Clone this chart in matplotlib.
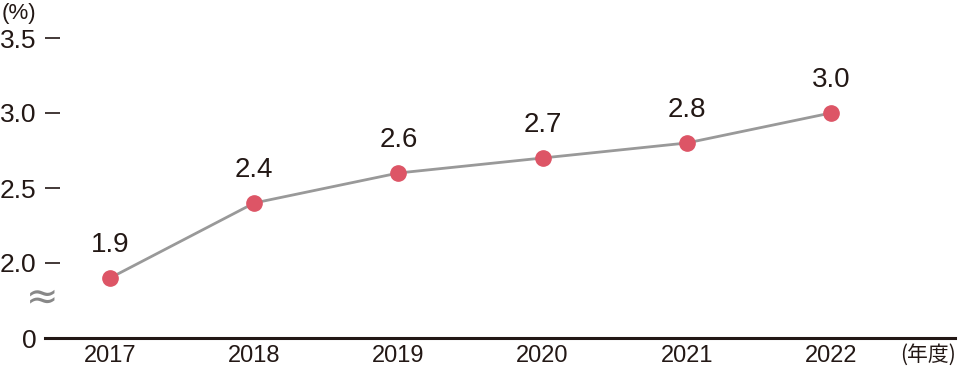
import matplotlib
matplotlib.use("Agg")
import matplotlib.pyplot as plt
import matplotlib.transforms as mtransforms

years = ["2017", "2018", "2019", "2020", "2021", "2022"]
values = [1.9, 2.4, 2.6, 2.7, 2.8, 3.0]
value_labels = ["1.9", "2.4", "2.6", "2.7", "2.8", "3.0"]
ytick_pos = [1.5, 2.0, 2.5, 3.0, 3.5]  # 1.5 stands for the broken-axis "0"
ytick_labels = ["0", "2.0", "2.5", "3.0", "3.5"]

ink = "#231815"
dot = "#dd5566"
line = "#999999"

plt.rcParams["font.family"] = ["Liberation Sans", "Noto Sans CJK JP", "DejaVu Sans"]

fig = plt.figure(figsize=(9.58, 3.66), dpi=100)
ax = fig.add_axes([45 / 958, 28 / 366, 910 / 958, 338 / 366])

x = list(range(len(years)))
ax.plot(x, values, color=line, lw=2, zorder=2)
ax.plot(x, values, "o", color=dot, ms=11, mec=dot, zorder=3)

for xi, v, lab in zip(x, values, value_labels):
    ax.annotate(lab, (xi, v), xytext=(0, 24), textcoords="offset points",
                ha="center", va="center", fontsize=20, color=ink)

ax.set_xlim(-65 / 144, 5 + 124 / 144)
ax.set_ylim(1.5, 3.5 + 38 / 150)

for s in ["top", "right", "left"]:
    ax.spines[s].set_visible(False)
ax.spines["bottom"].set_linewidth(2.2)
ax.spines["bottom"].set_color(ink)

ax.set_xticks(x)
ax.set_xticklabels(years)
ax.tick_params(axis="x", length=0, pad=5, labelsize=17, labelcolor=ink)

ax.set_yticks(ytick_pos)
ax.set_yticklabels(ytick_labels)
ax.tick_params(axis="y", direction="in", length=11, width=1.2, color=ink,
               pad=6, labelsize=19, labelcolor=ink)

# axis break mark
trans = mtransforms.blended_transform_factory(fig.transFigure, ax.transData)
ax.text(42 / 958, 1.773, "≈", transform=trans, ha="center", va="center",
        fontsize=28, color="#888888", family="DejaVu Sans")

fig.text(2 / 958, 1 - 13 / 366, "(%)", ha="left", va="center", fontsize=16, color=ink)
fig.text(928 / 958, 1 - 355 / 366, "(年度)", ha="center", va="center",
         fontsize=15, color=ink, family=["Noto Sans CJK JP", "DejaVu Sans"])

fig.savefig("out.png", dpi=100)
